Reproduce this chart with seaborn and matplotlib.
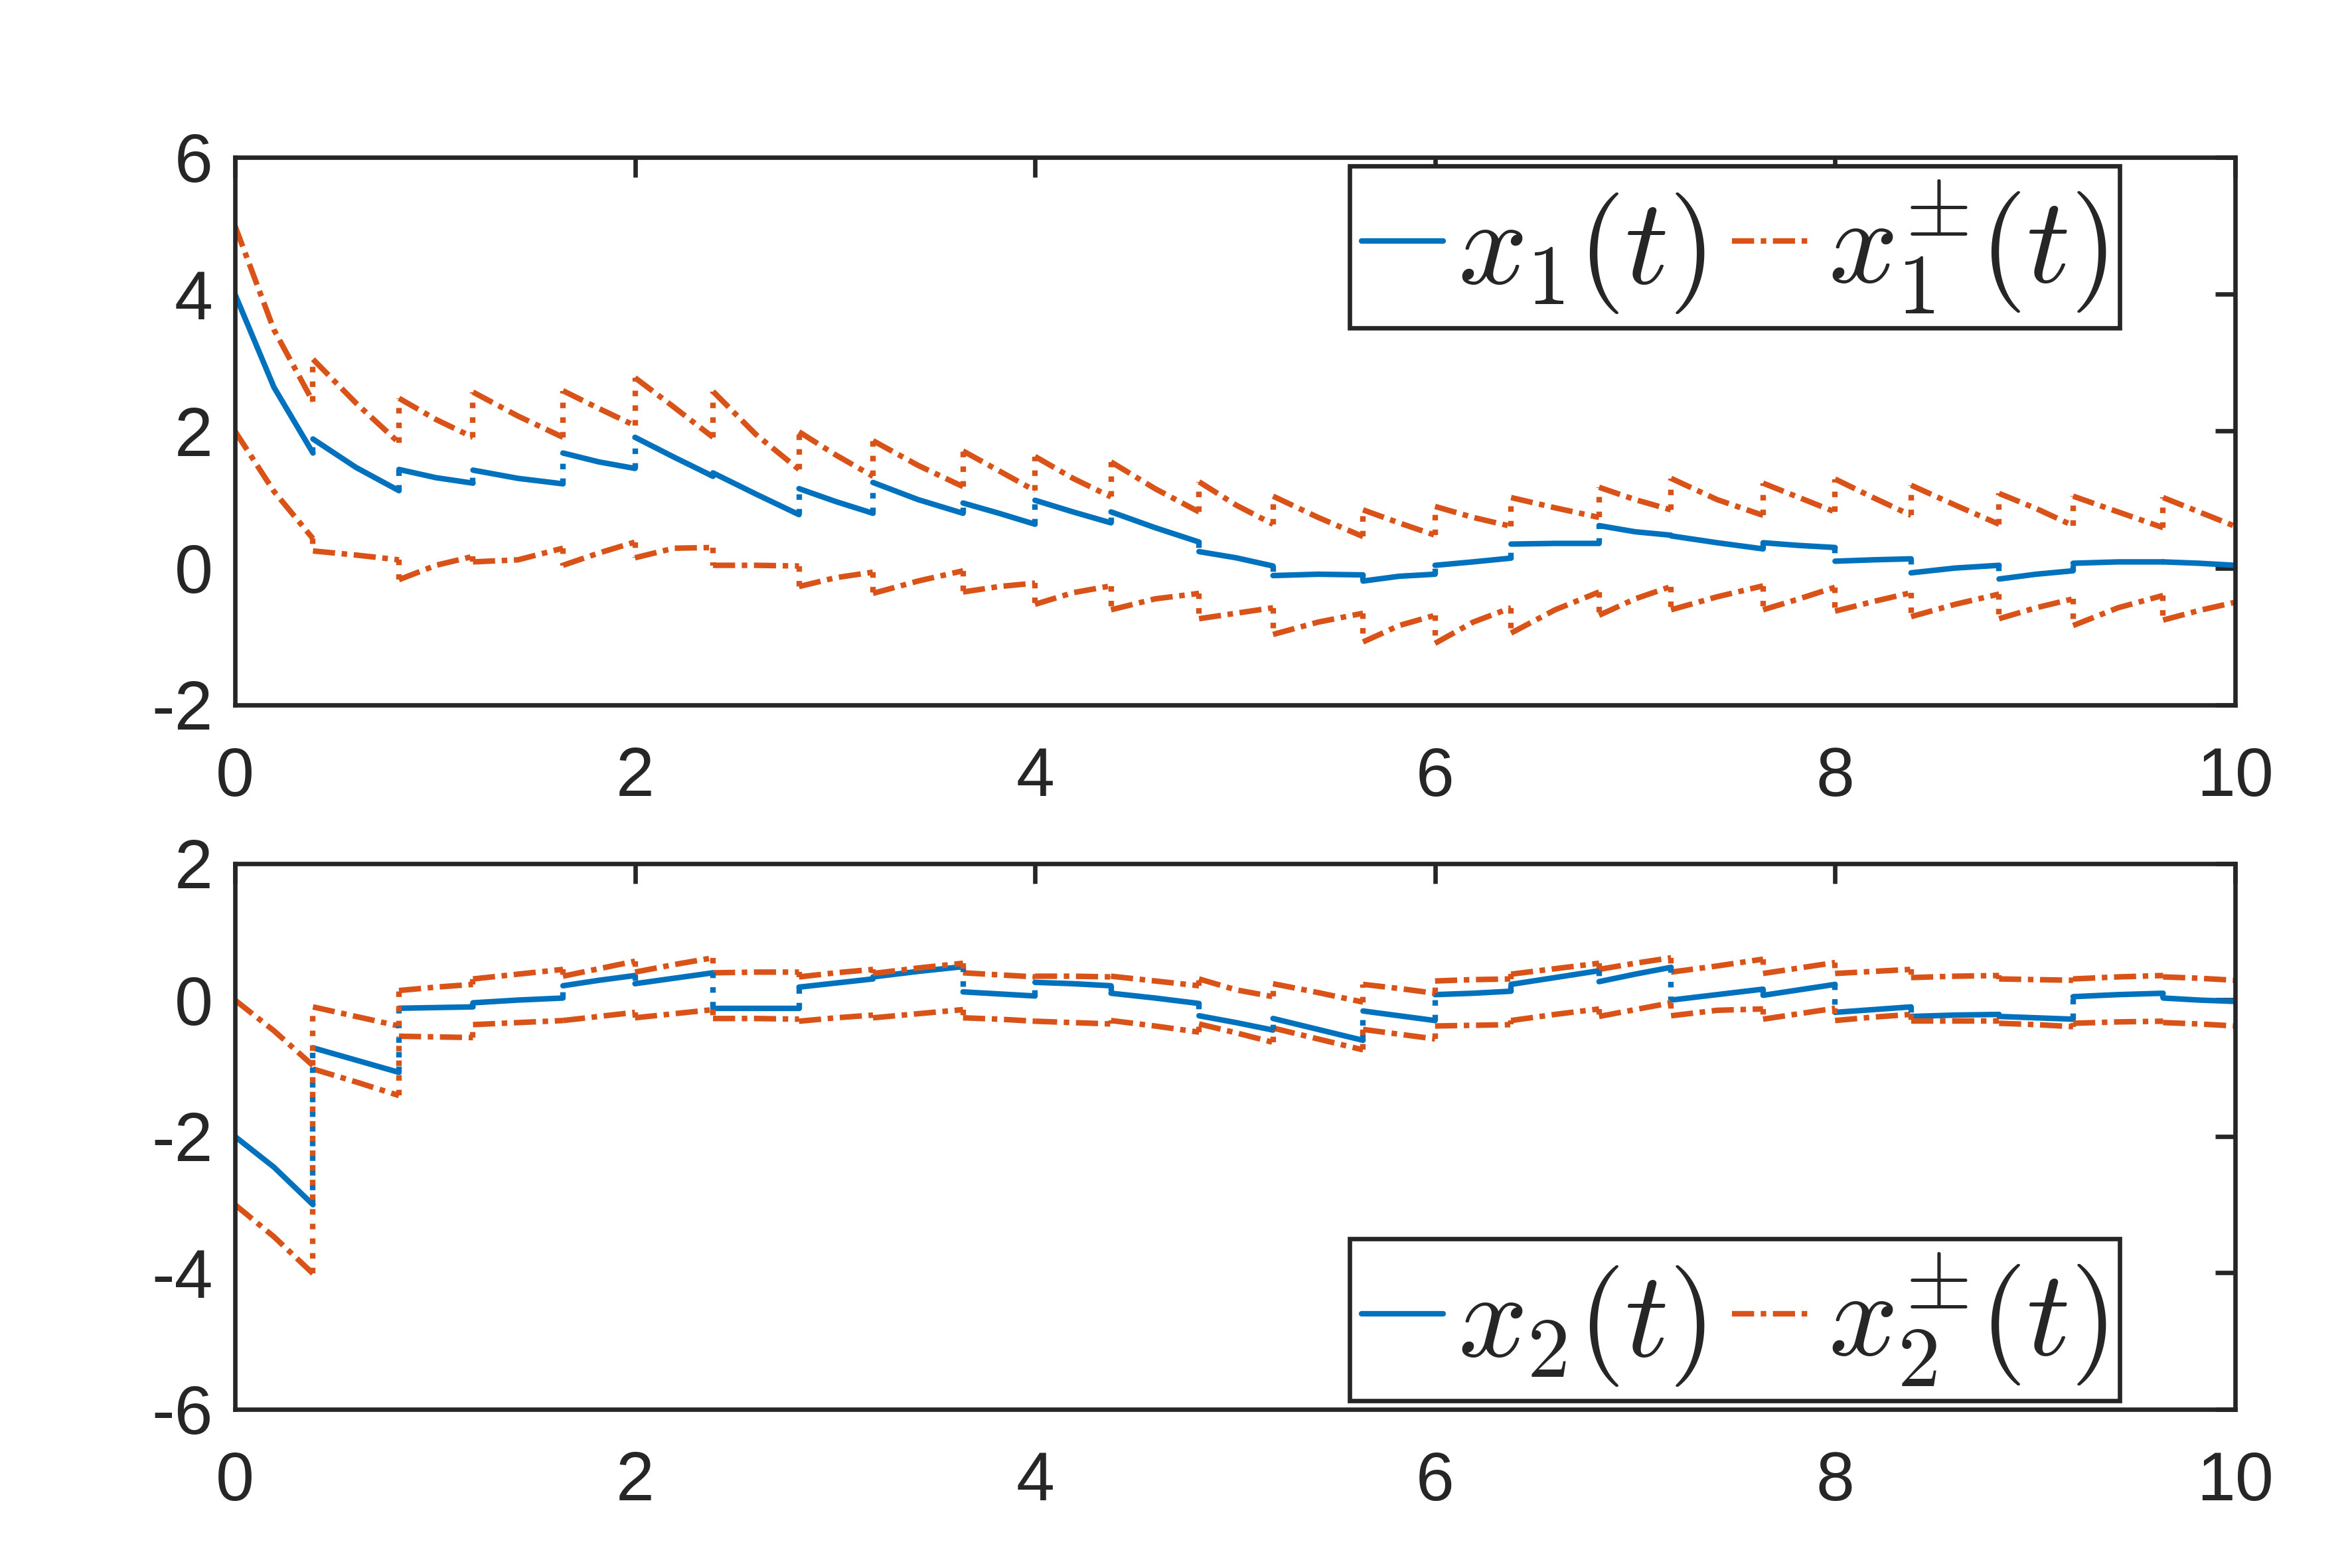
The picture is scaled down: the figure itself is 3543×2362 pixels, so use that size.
# x1, x2 and their interval bounds with impulsive jumps - two stacked panels
import numpy as np
import pandas as pd
import matplotlib
matplotlib.use('Agg')
import matplotlib.pyplot as plt
from matplotlib.lines import Line2D
import seaborn as sns

# segment boundaries (impulse times)
t_bounds = [0, 0.39, 0.82, 1.19, 1.64, 2.0, 2.39, 2.82, 3.19, 3.64, 4.0, 4.38,
            4.82, 5.19, 5.64, 6.0, 6.38, 6.82, 7.18, 7.64, 8.0, 8.38, 8.82,
            9.19, 9.64, 10.0]

# top panel: x1(t) and bounds, value at start / middle / end of each segment
x1_start = [4.0, 1.885, 1.44, 1.43, 1.68, 1.91, 1.39, 1.16, 1.25, 0.95, 0.99,
            0.82, 0.24, -0.11, -0.19, 0.04, 0.35, 0.62, 0.47, 0.37, 0.10,
            -0.07, -0.16, 0.07, 0.09]
x1_mid = [2.64, 1.47, 1.32, 1.31, 1.55, 1.62, 1.08, 0.97, 1.0, 0.80, 0.82,
          0.59, 0.15, -0.09, -0.12, 0.09, 0.36, 0.53, 0.37, 0.33, 0.12, 0.0,
          -0.09, 0.09, 0.07]
x1_end = [1.68, 1.13, 1.24, 1.23, 1.455, 1.34, 0.78, 0.80, 0.80, 0.64, 0.66,
          0.38, 0.03, -0.10, -0.09, 0.145, 0.36, 0.48, 0.28, 0.30, 0.135,
          0.04, -0.04, 0.09, 0.04]

x1_up_start = [5.0, 3.05, 2.48, 2.57, 2.59, 2.78, 2.58, 1.99, 1.86, 1.71, 1.63,
               1.55, 1.26, 1.05, 0.85, 0.90, 1.03, 1.18, 1.31, 1.24, 1.30,
               1.21, 1.09, 1.05, 1.03]
x1_up_mid = [3.48, 2.41, 2.17, 2.22, 2.33, 2.35, 1.95, 1.65, 1.50, 1.42, 1.31,
             1.16, 0.92, 0.74, 0.66, 0.74, 0.88, 1.0, 1.0, 1.03, 1.03, 0.92,
             0.87, 0.82, 0.82]
x1_up_end = [2.43, 1.83, 1.91, 1.91, 2.08, 1.91, 1.44, 1.34, 1.19, 1.13, 1.04,
             0.82, 0.64, 0.46, 0.48, 0.61, 0.74, 0.85, 0.77, 0.82, 0.77, 0.64,
             0.62, 0.59, 0.61]

x1_lo_start = [2.0, 0.25, -0.17, 0.09, 0.04, 0.15, 0.04, -0.27, -0.37, -0.35,
               -0.53, -0.61, -0.74, -0.97, -1.08, -1.10, -0.95, -0.69, -0.61,
               -0.61, -0.63, -0.71, -0.74, -0.84, -0.76]
x1_lo_mid = [1.12, 0.19, 0.04, 0.12, 0.22, 0.29, 0.04, -0.14, -0.19, -0.27,
             -0.36, -0.45, -0.66, -0.79, -0.84, -0.79, -0.61, -0.45, -0.42,
             -0.45, -0.49, -0.53, -0.58, -0.58, -0.62]
x1_lo_end = [0.43, 0.12, 0.17, 0.29, 0.38, 0.30, 0.03, -0.06, -0.04, -0.22,
             -0.26, -0.37, -0.58, -0.66, -0.69, -0.58, -0.35, -0.27, -0.26,
             -0.28, -0.36, -0.38, -0.45, -0.40, -0.50]

# bottom panel: x2(t) and bounds
x2_start = [-2.0, -0.70, -0.12, -0.04, 0.21, 0.24, -0.12, 0.19, 0.34, 0.12,
            0.26, 0.10, -0.23, -0.27, -0.16, 0.08, 0.23, 0.27, 0.0, 0.07,
            -0.18, -0.24, -0.24, 0.05, 0.03]
x2_mid = [-2.45, -0.88, -0.11, 0.0, 0.29, 0.32, -0.12, 0.25, 0.42, 0.09, 0.24,
          0.03, -0.33, -0.43, -0.23, 0.10, 0.33, 0.38, 0.08, 0.15, -0.14,
          -0.22, -0.26, 0.08, 0.0]
x2_end = [-3.0, -1.06, -0.10, 0.03, 0.36, 0.40, -0.12, 0.31, 0.49, 0.06, 0.21,
          -0.05, -0.44, -0.59, -0.30, 0.13, 0.43, 0.48, 0.16, 0.23, -0.10,
          -0.21, -0.28, 0.10, -0.02]

x2_up_start = [0.0, -0.10, 0.14, 0.31, 0.35, 0.41, 0.40, 0.34, 0.39, 0.40,
               0.35, 0.35, 0.31, 0.24, 0.23, 0.28, 0.38, 0.45, 0.41, 0.39,
               0.39, 0.33, 0.31, 0.31, 0.34]
x2_up_mid = [-0.45, -0.24, 0.19, 0.38, 0.46, 0.52, 0.41, 0.40, 0.47, 0.37,
             0.35, 0.28, 0.15, 0.11, 0.17, 0.30, 0.46, 0.54, 0.50, 0.47, 0.42,
             0.35, 0.30, 0.34, 0.32]
x2_up_end = [-0.96, -0.38, 0.23, 0.45, 0.57, 0.62, 0.41, 0.45, 0.54, 0.34,
             0.34, 0.21, 0.05, -0.03, 0.10, 0.31, 0.54, 0.62, 0.60, 0.55, 0.45,
             0.36, 0.29, 0.36, 0.29]

x2_lo_start = [-3.0, -1.01, -0.53, -0.36, -0.30, -0.26, -0.27, -0.31, -0.26,
               -0.26, -0.31, -0.30, -0.35, -0.41, -0.43, -0.38, -0.30, -0.24,
               -0.23, -0.28, -0.30, -0.31, -0.34, -0.34, -0.33]
x2_lo_mid = [-3.47, -1.2, -0.54, -0.33, -0.24, -0.20, -0.27, -0.26, -0.20,
             -0.28, -0.33, -0.38, -0.48, -0.57, -0.50, -0.37, -0.21, -0.14,
             -0.15, -0.20, -0.25, -0.31, -0.36, -0.32, -0.35]
x2_lo_end = [-4.01, -1.40, -0.55, -0.30, -0.18, -0.14, -0.28, -0.22, -0.14,
             -0.31, -0.35, -0.47, -0.62, -0.73, -0.57, -0.36, -0.13, -0.04,
             -0.13, -0.12, -0.21, -0.31, -0.39, -0.31, -0.38]

BLUE = '#0072BD'
ORANGE = '#D95319'
DARK = '#262626'
DASHDOT = (4.0, 1.2, 1.0, 1.2)


def build_frame(curves):
    rows = []
    for name, (st, md, en) in curves.items():
        for i in range(len(st)):
            t0, t1 = t_bounds[i], t_bounds[i + 1]
            rows.append((name, i, t0, st[i]))
            rows.append((name, i, (t0 + t1) / 2, md[i]))
            rows.append((name, i, t1, en[i]))
    return pd.DataFrame(rows, columns=['curve', 'seg', 't', 'v'])


sns.set_theme(style='white')
plt.rcParams['font.family'] = ['Liberation Sans', 'DejaVu Sans']
plt.rcParams['mathtext.fontset'] = 'cm'
plt.rcParams['axes.unicode_minus'] = False

fig = plt.figure(figsize=(3543 / 600, 2362 / 600), dpi=600)
ax_top = fig.add_axes([0.0999, 0.5504, 0.8504, 0.3493])
ax_bot = fig.add_axes([0.0999, 0.1012, 0.8504, 0.3480])

panels = [
    (ax_top, {'x': (x1_start, x1_mid, x1_end),
              'up': (x1_up_start, x1_up_mid, x1_up_end),
              'lo': (x1_lo_start, x1_lo_mid, x1_lo_end)},
     (-2, 6), [-2, 0, 2, 4, 6], 'upper right', (0.9422, 0.984),
     [r'$x_1(t)$', r'$x_1^{\pm}(t)$']),
    (ax_bot, {'x': (x2_start, x2_mid, x2_end),
              'up': (x2_up_start, x2_up_mid, x2_up_end),
              'lo': (x2_lo_start, x2_lo_mid, x2_lo_end)},
     (-6, 2), [-6, -4, -2, 0, 2], 'lower right', (0.9422, 0.016),
     [r'$x_2(t)$', r'$x_2^{\pm}(t)$']),
]

lw = 1.0
for ax, curves, ylim, yticks, loc, anchor, labels in panels:
    df = build_frame(curves)
    sns.lineplot(data=df, x='t', y='v', hue='curve', style='curve',
                 units='seg', estimator=None, sort=False,
                 palette={'x': BLUE, 'up': ORANGE, 'lo': ORANGE},
                 dashes={'x': '', 'up': DASHDOT, 'lo': DASHDOT},
                 linewidth=lw, legend=False, ax=ax)

    # dotted jump connectors at impulse times
    for name, (st, md, en) in curves.items():
        color = BLUE if name == 'x' else ORANGE
        ax.vlines(t_bounds[1:-1], en[:-1], st[1:], colors=color,
                  linestyles=':', linewidth=lw)

    ax.set_xlim(0, 10)
    ax.set_ylim(*ylim)
    ax.set_xticks([0, 2, 4, 6, 8, 10])
    ax.set_yticks(yticks)
    ax.set_xlabel('')
    ax.set_ylabel('')
    ax.tick_params(direction='in', top=True, right=True, length=3.6,
                   width=0.8, color=DARK, labelcolor=DARK, labelsize=12.5)
    ax.tick_params(axis='x', pad=7.5)
    ax.tick_params(axis='y', pad=4)
    for sp in ax.spines.values():
        sp.set_color(DARK)
        sp.set_linewidth(0.8)

    handles = [Line2D([], [], color=BLUE, lw=lw),
               Line2D([], [], color=ORANGE, lw=lw, dashes=DASHDOT)]
    leg = ax.legend(handles, labels, loc=loc, bbox_to_anchor=anchor,
                    ncol=2, fontsize=22, frameon=True, fancybox=False,
                    framealpha=1, edgecolor=DARK, borderaxespad=0,
                    handlelength=0.67, handletextpad=0.12,
                    columnspacing=0.22, borderpad=0.1)
    leg.get_frame().set_linewidth(0.8)

fig.savefig('out.png', dpi=600, facecolor='white')
